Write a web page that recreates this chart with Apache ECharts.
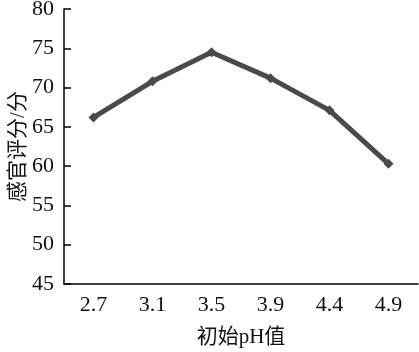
<!DOCTYPE html>
<html>
<head>
<meta charset="utf-8">
<script src="https://cdn.jsdelivr.net/npm/echarts@6/dist/echarts.min.js"></script>
<style>
  html, body { margin: 0; padding: 0; background: #fff; }
  #main { width: 419px; height: 352px; }
</style>
</head>
<body>
<div id="main"></div>
<script>
// 初始pH值 vs 感官评分
const categories = ['2.7', '3.1', '3.5', '3.9', '4.4', '4.9']
const scores = [66.2, 70.8, 74.5, 71.2, 67.1, 60.3]

const font = '"Liberation Serif", "Noto Sans CJK SC", serif'

let option = {
  animation: false,
  grid: { left: 64, right: 1, top: 9, bottom: 68, containLabel: false, outerBoundsMode: 'none' },
  xAxis: {
    type: 'category',
    data: categories,
    boundaryGap: true,
    name: '初始pH值',
    nameLocation: 'middle',
    nameMoveOverlap: false,
    nameGap: 43,
    nameTextStyle: { color: '#111', fontSize: 21, fontFamily: font },
    axisLine: { lineStyle: { color: '#000', width: 1.5 } },
    axisTick: { inside: true, alignWithLabel: true, length: 6, lineStyle: { color: '#000', width: 1.5 } },
    axisLabel: { color: '#111', fontSize: 22, fontFamily: font, margin: 10 }
  },
  yAxis: {
    type: 'value',
    min: 45,
    max: 80,
    interval: 5,
    name: '感官评分/分',
    nameLocation: 'middle',
    nameMoveOverlap: false,
    nameGap: 35,
    nameTextStyle: { color: '#111', fontSize: 21, fontFamily: font },
    splitLine: { show: false },
    axisLine: { show: true, lineStyle: { color: '#000', width: 1.5 } },
    axisTick: { show: true, inside: true, length: 7, lineStyle: { color: '#000', width: 1.5 } },
    axisLabel: { color: '#111', fontSize: 22, fontFamily: font, margin: 10 }
  },
  series: [{
    type: 'line',
    data: scores,
    symbol: 'diamond',
    symbolSize: 10,
    lineStyle: { color: '#4a4a4a', width: 5 },
    itemStyle: { color: '#4a4a4a' }
  }]
}
echarts.init(document.getElementById('main')).setOption(option)
</script>
</body>
</html>
